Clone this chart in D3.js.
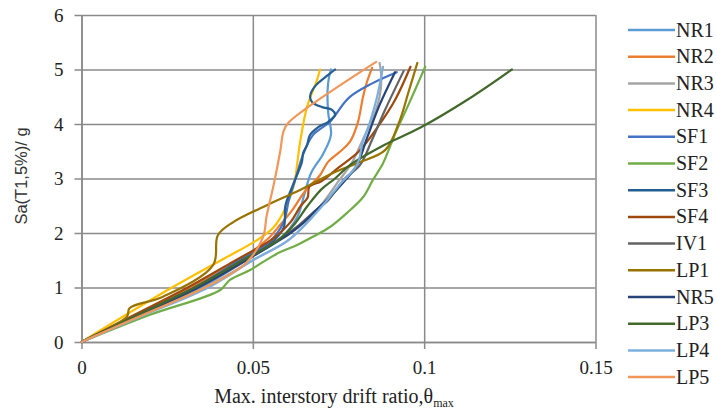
<!DOCTYPE html>
<html>
<head>
<meta charset="utf-8">
<script src="https://cdn.jsdelivr.net/npm/d3@7/dist/d3.min.js"></script>
<style>
  html, body { margin: 0; padding: 0; background: #fff; }
  svg { display: block; }
</style>
</head>
<body>
<svg id="chart" width="717" height="409"></svg>
<script>
// Incremental dynamic analysis curves: [max interstory drift ratio, Sa(T1,5%) in g]
const seriesNames = ["NR1","NR2","NR3","NR4","SF1","SF2","SF3","SF4","IV1","LP1","NR5","LP3","LP4","LP5"];
const seriesColors = ["#5B9BD5","#ED7D31","#A5A5A5","#FFC000","#4472C4","#70AD47","#255E91","#9E480E","#636363","#997300","#264478","#43682B","#7CAFDD","#F1975A"];

const NR1 = [[0,0],[0.0175,0.5],[0.035,1.0],[0.048,1.5],[0.058,1.9],[0.063,2.3],[0.065,2.7],[0.067,3.1],[0.0705,3.45],[0.0728,3.8],[0.072,4.2],[0.0718,4.6],[0.0722,4.85],[0.0728,5.0]];
const NR2 = [[0,0],[0.016,0.5],[0.032,1.0],[0.046,1.5],[0.0545,1.9],[0.058,2.15],[0.0615,2.42],[0.0655,2.79],[0.0696,3.06],[0.0719,3.3],[0.0754,3.49],[0.0783,3.67],[0.0807,4.04],[0.0821,4.48],[0.0833,4.77],[0.0848,5.03]];
const NR3 = [[0,0],[0.018,0.5],[0.036,1.0],[0.05,1.5],[0.06,1.85],[0.066,2.2],[0.071,2.6],[0.075,2.95],[0.079,3.3],[0.082,3.7],[0.085,4.1],[0.087,4.5],[0.0875,4.85],[0.087,5.12]];
const NR4 = [[0,0],[0.013,0.5],[0.0264,1.0],[0.0407,1.5],[0.0512,1.87],[0.056,2.1],[0.0595,2.45],[0.062,2.88],[0.063,3.3],[0.0638,3.67],[0.0658,4.31],[0.0687,4.8],[0.0696,5.0]];
const SF1 = [[0,0],[0.0165,0.5],[0.033,1.0],[0.046,1.5],[0.055,1.85],[0.059,2.2],[0.0605,2.6],[0.0625,3.0],[0.0646,3.43],[0.0676,3.8],[0.0725,4.04],[0.078,4.48],[0.085,4.75],[0.092,4.95]];
const SF2 = [[0,0],[0.02,0.5],[0.0404,0.95],[0.0433,1.14],[0.0492,1.32],[0.053,1.47],[0.058,1.65],[0.0629,1.78],[0.0675,1.93],[0.0725,2.11],[0.0775,2.37],[0.0822,2.66],[0.085,2.97],[0.088,3.28],[0.09,3.58],[0.092,3.89],[0.0938,4.13],[0.0973,4.62],[0.1003,5.05]];
const SF3 = [[0,0],[0.0165,0.5],[0.033,1.0],[0.047,1.5],[0.055,1.8],[0.059,2.1],[0.0595,2.5],[0.0615,2.85],[0.0643,3.3],[0.0647,3.47],[0.0658,3.61],[0.0667,3.8],[0.069,3.94],[0.072,4.04],[0.074,4.17],[0.0731,4.26],[0.0702,4.31],[0.0673,4.4],[0.0667,4.5],[0.068,4.68],[0.072,4.9],[0.074,5.0]];
const SF4 = [[0,0],[0.0155,0.5],[0.031,1.0],[0.045,1.5],[0.056,1.9],[0.061,2.2],[0.064,2.5],[0.066,2.65],[0.0665,2.85],[0.07,2.95],[0.075,3.2],[0.081,3.5],[0.0865,3.95],[0.0915,4.44],[0.096,5.05]];
const IV1 = [[0,0],[0.017,0.5],[0.034,1.0],[0.048,1.5],[0.058,1.9],[0.063,2.12],[0.0675,2.37],[0.072,2.6],[0.0764,2.97],[0.0813,3.25],[0.0848,3.71],[0.0886,4.26],[0.094,4.97]];
const LP1 = [[0,0],[0.0133,0.47],[0.014,0.62],[0.0238,0.83],[0.0384,1.41],[0.0398,1.96],[0.0443,2.2],[0.0541,2.51],[0.0638,2.79],[0.0734,3.1],[0.0804,3.28],[0.0886,3.52],[0.0925,4.0],[0.0955,4.6],[0.098,5.12]];
const NR5 = [[0,0],[0.017,0.5],[0.034,1.0],[0.048,1.5],[0.061,2.0],[0.065,2.2],[0.0685,2.42],[0.0725,2.66],[0.077,2.97],[0.0804,3.25],[0.0833,3.74],[0.087,4.35],[0.0915,4.95]];
const LP3 = [[0,0],[0.0165,0.5],[0.033,1.0],[0.047,1.5],[0.057,1.85],[0.062,2.15],[0.066,2.5],[0.07,2.8],[0.074,3.0],[0.0784,3.25],[0.0885,3.62],[0.0988,3.93],[0.1125,4.44],[0.1256,5.0]];
const LP4 = [[0,0],[0.0185,0.5],[0.037,1.0],[0.05,1.5],[0.06,1.85],[0.066,2.2],[0.071,2.55],[0.0755,2.9],[0.0804,3.25],[0.0821,3.67],[0.0842,4.04],[0.0862,4.48],[0.088,5.05]];
const LP5 = [[0,0],[0.018,0.5],[0.036,1.0],[0.048,1.45],[0.053,1.93],[0.054,2.3],[0.0562,2.92],[0.058,3.5],[0.0589,3.85],[0.0603,4.02],[0.086,5.14]];

const seriesValues = [NR1,NR2,NR3,NR4,SF1,SF2,SF3,SF4,IV1,LP1,NR5,LP3,LP4,LP5];

const xTicks = [0, 0.05, 0.1, 0.15];
const xTickLabels = ["0", "0.05", "0.1", "0.15"];
const yTicks = [0, 1, 2, 3, 4, 5, 6];

const svg = d3.select("#chart");
const plotLeft = 81.5, plotRight = 595.5, plotTop = 15, plotBottom = 342;

const x = d3.scaleLinear().domain([0, 0.15]).range([plotLeft, plotRight]);
const y = d3.scaleLinear().domain([0, 6]).range([plotBottom, plotTop]);

const gridColor = "#8a8a8a";
const serif = "'Liberation Serif','Times New Roman',serif";

// y axis with horizontal gridlines
const gy = svg.append("g")
  .attr("transform", `translate(${plotLeft},0)`)
  .call(d3.axisLeft(y).tickValues(yTicks).tickFormat(d3.format("d"))
        .tickSizeInner(-(plotRight - plotLeft)).tickSizeOuter(0).tickPadding(12));
gy.select(".domain").attr("stroke", gridColor).attr("stroke-width", 1.5);
gy.selectAll(".tick line").attr("x1", -7).attr("stroke", gridColor).attr("stroke-width", 1.5);
gy.selectAll(".tick text").attr("x", -18).attr("font-family", serif).attr("font-size", 19).attr("fill", "#222");

// x axis with vertical gridlines
const gx = svg.append("g")
  .attr("transform", `translate(0,${plotBottom})`)
  .call(d3.axisBottom(x).tickValues(xTicks).tickFormat((d, i) => xTickLabels[i])
        .tickSizeInner(-(plotBottom - plotTop)).tickSizeOuter(0).tickPadding(14));
gx.select(".domain").attr("stroke", gridColor).attr("stroke-width", 1.5);
gx.selectAll(".tick line").attr("y1", 7).attr("stroke", gridColor).attr("stroke-width", 1.5);
gx.selectAll(".tick text").attr("y", 19).attr("font-family", serif).attr("font-size", 19).attr("fill", "#222");

// curves
const line = d3.line()
  .x(d => x(d[0]))
  .y(d => y(d[1]))
  .curve(d3.curveCatmullRom.alpha(0.5));

svg.append("g").selectAll("path")
  .data(seriesValues)
  .join("path")
  .attr("d", line)
  .attr("fill", "none")
  .attr("stroke", (d, i) => seriesColors[i])
  .attr("stroke-width", 2.2)
  .attr("stroke-linejoin", "round")
  .attr("stroke-linecap", "round");

// axis titles
const xt = svg.append("text")
  .attr("x", 334).attr("y", 403)
  .attr("text-anchor", "middle")
  .attr("font-family", serif).attr("font-size", 20).attr("fill", "#222");
xt.append("tspan").text("Max. interstory drift ratio,θ");
xt.append("tspan").attr("font-size", 12).attr("dy", 4).text("max");

svg.append("text")
  .attr("transform", "translate(27,176) rotate(-90)")
  .attr("text-anchor", "middle")
  .attr("font-family", "'Liberation Sans',Arial,sans-serif")
  .attr("font-size", 16.5).attr("fill", "#333")
  .text("Sa(T1,5%)/ g");

// legend
const legend = svg.append("g");
const rowH = 26.7, ly0 = 30;
const items = legend.selectAll("g").data(seriesNames).join("g")
  .attr("transform", (d, i) => `translate(0,${ly0 + i * rowH})`);
items.append("line")
  .attr("x1", 628).attr("x2", 675).attr("y1", 0).attr("y2", 0)
  .attr("stroke", (d, i) => seriesColors[i]).attr("stroke-width", 2.5);
items.append("text")
  .attr("x", 676).attr("y", 6.5)
  .attr("font-family", serif).attr("font-size", 20).attr("fill", "#222")
  .text(d => d);
</script>
</body>
</html>
